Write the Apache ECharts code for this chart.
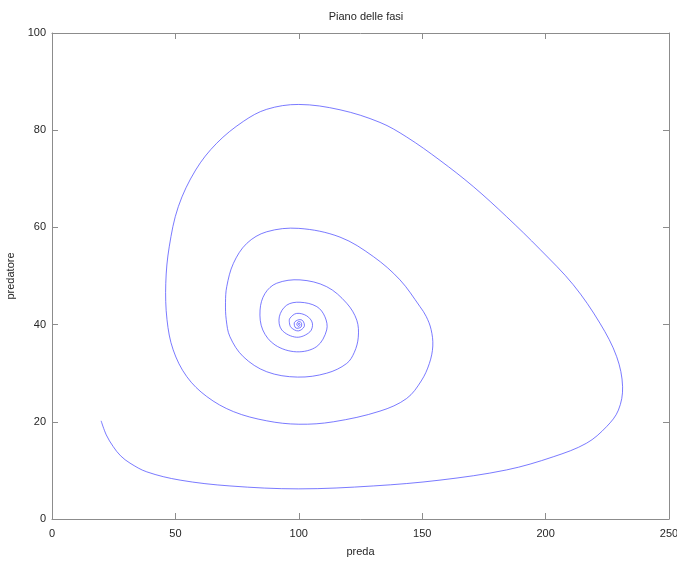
<!DOCTYPE html>
<html>
<head>
<meta charset="utf-8">
<script src="https://cdn.jsdelivr.net/npm/echarts@6/dist/echarts.min.js"></script>
<style>
html,body{margin:0;padding:0;background:#fff;}
#chart{width:677px;height:563px;}
</style>
</head>
<body>
<div id="chart"></div>
<script>
const titleText = 'Piano delle fasi';
const xName = 'preda';
const yName = 'predatore';
const xTicks = [0, 50, 100, 150, 200, 250];
const yTicks = [0, 20, 40, 60, 80, 100];

// trajectory (prey, predator), in order
const preda = [
  19.9, 22.0, 24.8, 27.8, 31.6, 38.4, 51.9, 72.1, 100.0, 130.2, 157.2, 184.2, 203.1, 216.6, 224.7, 229.5,
  231.2, 228.8, 222.0, 211.2, 197.7, 184.2, 170.7, 157.2, 143.7, 132.9, 116.7, 100.0, 87.0, 77.5, 66.7, 58.2,
  51.2, 47.5, 46.1, 46.6, 49.1, 54.6, 62.7, 73.5, 87.0, 100.0, 114.0, 132.9, 143.7, 149.6, 152.9, 154.3,
  153.6, 151.6, 149.1, 141.0, 130.2, 116.7, 100.0, 87.0, 78.9, 73.5, 70.8, 70.3, 70.6, 72.1, 77.5, 87.0,
  99.5, 111.3, 119.4, 122.5, 124.1, 123.5, 119.4, 111.3, 100.5, 91.0, 86.3, 84.3, 85.4, 90.4, 99.1,
  107.3, 111.3, 110.6, 107.3, 100.5, 95.1, 92.1, 93.1, 99.1, 104.5, 105.5, 103.2, 99.1, 96.4, 96.2, 96.9,
  99.8, 102.2, 101.6, 100.0, 98.2, 98.8, 100.9, 101.0, 99.8, 99.2, 100.0, 100.5, 100.0, 99.8, 100.0
];
const predatore = [
  20.2, 17.3, 14.9, 13.0, 11.5, 9.7, 8.0, 6.8, 6.2, 6.8, 8.0, 10.1, 12.8, 15.6, 19.0, 22.4,
  27.2, 33.4, 40.3, 48.2, 55.5, 62.2, 68.4, 73.8, 78.6, 81.6, 84.2, 85.3, 84.3, 81.8, 77.3, 71.8,
  64.3, 56.0, 48.5, 41.0, 34.8, 29.3, 25.2, 22.1, 20.2, 19.5, 20.0, 22.2, 24.8, 28.4, 32.0, 35.6,
  39.0, 41.7, 43.7, 49.2, 54.0, 58.0, 59.8, 59.1, 56.7, 52.6, 47.8, 44.5, 41.0, 37.5, 33.4, 30.3,
  29.2, 30.0, 32.0, 34.3, 37.4, 40.9, 44.4, 47.8, 49.2, 48.5, 46.4, 43.0, 38.9, 35.8, 34.4,
  35.5, 38.9, 41.6, 43.7, 44.6, 44.0, 41.6, 38.9, 37.4, 38.5, 40.3, 41.8, 42.3, 41.3, 40.4, 39.4,
  38.7, 39.6, 40.8, 41.0, 40.4, 39.3, 39.5, 40.4, 40.6, 40.0, 39.6, 40.1, 40.3, 40.0, 40.0
];

const points = preda.map((v, i) => [v, predatore[i]]);
const font = 'Liberation Sans';
const frameColor = '#8c8c8c';
const textColor = '#262626';
const lineColor = '#4040ff';

function xAx(pos, labels) {
  return {
    type: 'value', position: pos, min: xTicks[0], max: xTicks[xTicks.length - 1],
    interval: xTicks[1] - xTicks[0],
    name: labels ? xName : '', nameLocation: 'middle', nameGap: 27,
    nameTextStyle: { fontFamily: font, fontSize: 11, color: textColor },
    axisLine: { show: true, onZero: false, lineStyle: { color: frameColor, width: 1 } },
    axisTick: { show: true, inside: true, length: 6, lineStyle: { color: frameColor } },
    axisLabel: { show: labels, margin: 9, fontFamily: font, fontSize: 11, color: textColor },
    splitLine: { show: false }
  };
}
function yAx(pos, labels) {
  return {
    type: 'value', position: pos, min: yTicks[0], max: yTicks[yTicks.length - 1],
    interval: yTicks[1] - yTicks[0],
    name: labels ? yName : '', nameLocation: 'middle', nameGap: 28,
    nameTextStyle: { fontFamily: font, fontSize: 11, color: textColor },
    axisLine: { show: true, onZero: false, lineStyle: { color: frameColor, width: 1 } },
    axisTick: { show: true, inside: true, length: 6, lineStyle: { color: frameColor } },
    axisLabel: { show: labels, margin: 6, fontFamily: font, fontSize: 11, color: textColor },
    splitLine: { show: false }
  };
}

const chart = echarts.init(document.getElementById('chart'));
chart.setOption({
  animation: false,
  backgroundColor: '#fff',
  title: {
    text: titleText, left: 361, top: 6, textAlign: 'center',
    textStyle: { fontFamily: font, fontSize: 11, fontWeight: 'normal', color: textColor }
  },
  grid: { left: 52, right: 8, top: 33, bottom: 44, containLabel: false, outerBoundsMode: 'none' },
  xAxis: [xAx('bottom', true), xAx('top', false)],
  yAxis: [yAx('left', true), yAx('right', false)],
  series: [{
    type: 'custom',
    data: points,
    encode: { x: 0, y: 1 },
    clip: true,
    renderItem: function (params, api) {
      if (params.dataIndex !== 0) return null;
      const pts = points.map(p => api.coord(p));
      return {
        type: 'polyline',
        shape: { points: pts, smooth: 0.35 },
        style: { stroke: lineColor, lineWidth: 0.7, fill: null }
      };
    }
  }]
});
</script>
</body>
</html>
